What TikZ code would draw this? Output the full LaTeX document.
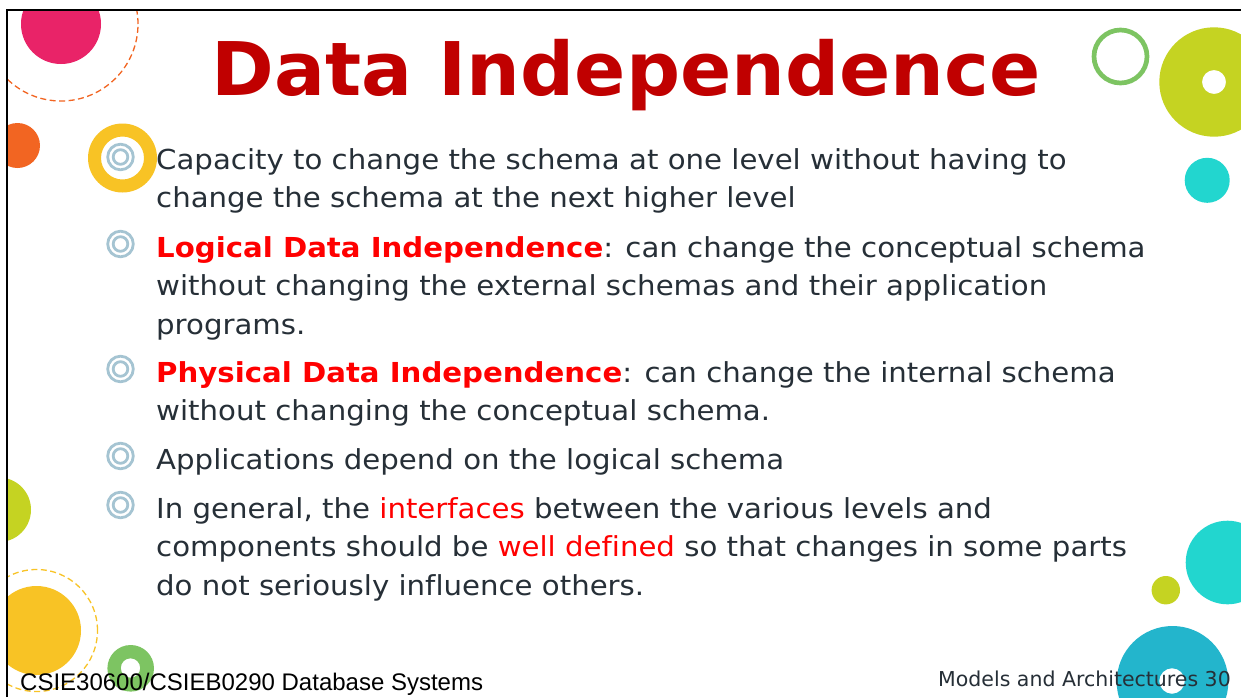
\documentclass[tikz,border=0pt]{standalone}
\usepackage{fontspec}
\setmainfont{DejaVu Sans}
\newfontfamily\arialfont{Liberation Sans}
\newfontfamily\bodyfont[FakeStretch=1.062, Ligatures=NoCommon]{DejaVu Sans}
\newfontfamily\titlefont[FakeStretch=1.022]{DejaVu Sans}
\definecolor{pinkc}{RGB}{233,35,104}
\definecolor{orangec}{RGB}{242,101,34}
\definecolor{yellowc}{RGB}{248,195,37}
\definecolor{greenc}{RGB}{125,196,98}
\definecolor{limec}{RGB}{197,211,34}
\definecolor{cyanc}{RGB}{34,214,207}
\definecolor{bluec}{RGB}{35,181,204}
\definecolor{bulletc}{RGB}{165,196,210}
\definecolor{textc}{RGB}{38,47,55}
\definecolor{titlec}{RGB}{192,0,0}
\definecolor{redc}{RGB}{255,0,0}
\begin{document}
\begin{tikzpicture}[x=1pt,y=-1pt,
  bodytext/.style={anchor=base west, inner sep=0pt, text=textc, font=\bodyfont\fontsize{27.5}{33}\selectfont},
  bulring/.style={draw=bulletc, line width=2.8pt},
  dashring/.style={line width=1.3pt, dash pattern=on 6pt off 3.5pt}]
\useasboundingbox (0,0) rectangle (1241,697);
\fill[white] (0,0) rectangle (1241,697);
\begin{scope}
\clip (7,10) rectangle (1241,697);
% top-left
\fill[pinkc] (61,24) circle (40pt);
\draw[orangec, dashring] (61,24) circle (77pt);
\fill[orangec] (17.5,145.5) circle (22.5pt);
% bullet 1 yellow ring
\fill[yellowc, even odd rule] (122.5,158) circle (34.5pt) (122.5,158) circle (21.5pt);
% top-right
\draw[greenc, line width=4.7pt] (1120.5,56.5) circle (26.5pt);
\fill[limec, even odd rule] (1214,82) circle (54.7pt) (1214,82) circle (12pt);
\fill[cyanc] (1207.2,180.3) circle (22.5pt);
% left middle / bottom-left
\fill[limec] (-1.3,509.7) circle (32.3pt);
\fill[yellowc] (36.5,630.5) circle (44.5pt);
\draw[yellowc, dashring] (36.5,630.5) circle (61pt);
\fill[greenc, even odd rule] (130.7,668.3) circle (23.3pt) (130.5,668) circle (9.7pt);
% bottom-right
\fill[cyanc] (1227.5,562.5) circle (41.8pt);
\fill[limec] (1165.8,590.2) circle (14.2pt);
\fill[bluec, even odd rule] (1172.5,681.8) circle (55.8pt) (1172,681) circle (12.8pt);
\end{scope}
% frame
\draw[black, line width=2pt] (7,697) -- (7,10) -- (1241,10);
% bullets
\foreach \yy in {157,244,369,456,505}{
  \draw[bulring] (120.5,\yy) circle (12.8pt);
  \draw[bulring] (120.5,\yy) circle (7.3pt);
}
% title
\node[anchor=base, inner sep=0pt, text=titlec, font=\titlefont\bfseries\fontsize{74}{74}\selectfont] (title) at (626,95) {Data Independence};
% body
\node[bodytext] (t1a) at (156,169) {Capacity to change the schema at one level without having to};
\node[bodytext] (t1b) at (156,207.5) {change the schema at the next higher level};
\node[bodytext] (t2a) at (156,257) {\textcolor{redc}{\bfseries Logical Data Independence}: can change the conceptual schema};
\node[bodytext] (t2b) at (156,295.5) {without changing the external schemas and their application};
\node[bodytext] (t2c) at (156,334) {programs.};
\node[bodytext] (t3a) at (156,382) {\textcolor{redc}{\bfseries Physical Data Independence}: can change the internal schema};
\node[bodytext] (t3b) at (156,420.5) {without changing the conceptual schema.};
\node[bodytext] (t4a) at (156,469) {Applications depend on the logical schema};
\node[bodytext] (t5a) at (156,518) {In general, the \textcolor{redc}{interfaces} between the various levels and};
\node[bodytext] (t5b) at (156,556.5) {components should be \textcolor{redc}{well defined} so that changes in some parts};
\node[bodytext] (t5c) at (156,595) {do not seriously influence others.};
% footer
\node[anchor=base west, inner sep=0pt, text=black, font=\arialfont\fontsize{24}{24}\selectfont] (footl) at (20,690) {CSIE30600/CSIEB0290 Database Systems};
\node[anchor=base east, inner sep=0pt, text=textc, font=\fontsize{20.5}{20.5}\selectfont] (footr) at (1231,686) {Models and Architectures 30};
\end{tikzpicture}
\end{document}
